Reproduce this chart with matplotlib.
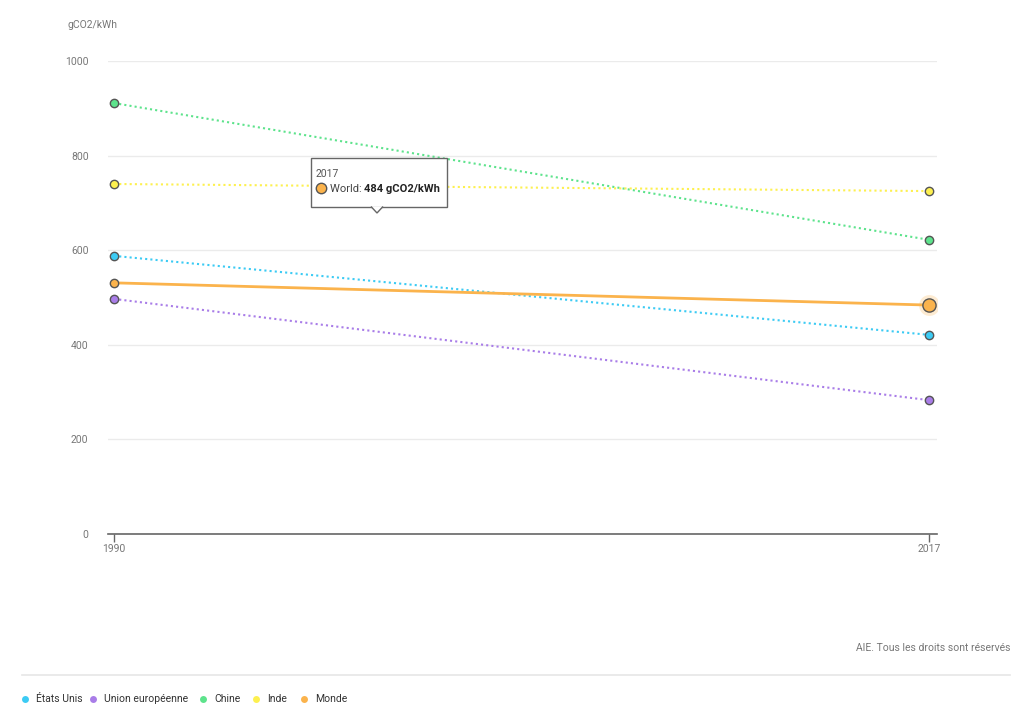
import matplotlib.pyplot as plt
from matplotlib.lines import Line2D
from matplotlib.patches import FancyBboxPatch, Polygon

plt.rcParams['font.family'] = ['Roboto', 'DejaVu Sans']

annees = [1990, 2017]
noms = ["États Unis", "Union européenne", "Chine", "Inde", "Monde"]
couleurs = ["#3ccbf4", "#a97de8", "#5de38c", "#fdf04f", "#fbb34c"]
etats_unis = [588, 421]
union_europeenne = [497, 283]
chine = [911, 622]
inde = [740, 725]
monde = [531, 484]
series = [etats_unis, union_europeenne, chine, inde, monde]

W, H = 1014, 722
fig = plt.figure(figsize=(W / 100, H / 100), dpi=100)
ax = fig.add_axes([108 / W, (H - 534) / H, (937 - 108) / W, (534 - 61) / H])

gris_bord = "#555555"
for nom, coul, vals in zip(noms, couleurs, series):
    if nom == "Monde":
        ax.plot(annees, vals, color=coul, lw=2, zorder=3, solid_capstyle='round')
        ax.plot(annees[:1], vals[:1], 'o', ms=6, mfc=coul, mec=gris_bord, mew=1, zorder=4)
        # point survolé : plus gros avec halo
        ax.plot(annees[1:], vals[1:], 'o', ms=15, mfc=coul, mec='none', alpha=0.25, zorder=4)
        ax.plot(annees[1:], vals[1:], 'o', ms=9.5, mfc=coul, mec=gris_bord, mew=1, zorder=5)
    else:
        ax.plot(annees, vals, color=coul, lw=1.5, ls=(0, (1, 1.5)), zorder=2)
        ax.plot(annees, vals, 'o', ms=6, mfc=coul, mec=gris_bord, mew=1, zorder=4)

ax.set_xlim(1989.80, 2017.265)
ax.set_ylim(0, 1000)
ax.set_yticks([0, 200, 400, 600, 800, 1000])
ax.set_xticks(annees)
ax.grid(axis='y', color='#ebebeb', lw=1)
ax.set_axisbelow(True)
for s in ['top', 'right', 'left']:
    ax.spines[s].set_visible(False)
ax.spines['bottom'].set_color('#666666')
ax.spines['bottom'].set_linewidth(1.2)
ax.tick_params(axis='y', length=0, pad=14, labelsize=7.5, labelcolor='#777777')
ax.tick_params(axis='x', length=6, width=1, color='#666666', pad=1, labelsize=7.5, labelcolor='#777777')

fig.text(67 / W, 1 - 25 / H, "gCO2/kWh", fontsize=7.5, color='#777777', va='center')

# infobulle
x0, y0, x1, y1 = 311, 158, 447, 207
boite = FancyBboxPatch((x0 / W, 1 - y1 / H), (x1 - x0) / W, (y1 - y0) / H,
                       boxstyle='square,pad=0', transform=fig.transFigure,
                       fc='white', ec='#666666', lw=1, zorder=10)
fig.patches.append(boite)
pointe = Polygon([(371 / W, 1 - (y1 - 0.5) / H), (377 / W, 1 - 213 / H), (383 / W, 1 - (y1 - 0.5) / H)],
                 closed=False, transform=fig.transFigure, fc='white', ec='#666666', lw=1, zorder=11)
fig.patches.append(pointe)
fig.text(316 / W, 1 - 174 / H, "2017", fontsize=7.5, color='#555555', va='center', zorder=12)
fig.add_artist(Line2D([321 / W], [1 - 188 / H], marker='o', ms=7.5, mfc=couleurs[4], mec=gris_bord,
                      mew=1, transform=fig.transFigure, zorder=12))
t_world = fig.text(330 / W, 1 - 189 / H, "World: ", fontsize=8, color='#444444', va='center', zorder=12)
fig.add_artist(plt.Annotation("484 gCO2/kWh", xy=(1, 0.5), xycoords=t_world, va='center',
                              fontsize=8, color='#222222', weight='bold', zorder=12))

fig.text(1010 / W, 1 - 648 / H, "AIE. Tous les droits sont réservés", fontsize=7.5, color='#777777',
         ha='right', va='center')
fig.add_artist(Line2D([22 / W, 1010 / W], [1 - 675 / H, 1 - 675 / H], color='#e6e6e6', lw=1.2,
                      transform=fig.transFigure))

# légende
pos_points = [25, 93, 203, 256, 304]
for nom, coul, px in zip(noms, couleurs, pos_points):
    fig.add_artist(Line2D([px / W], [1 - 699 / H], marker='o', ms=5, mfc=coul, mec='none',
                          transform=fig.transFigure))
    fig.text((px + 11) / W, 1 - 699 / H, nom, fontsize=7.5, color='#333333', va='center')

fig.savefig('out.png', dpi=100)
